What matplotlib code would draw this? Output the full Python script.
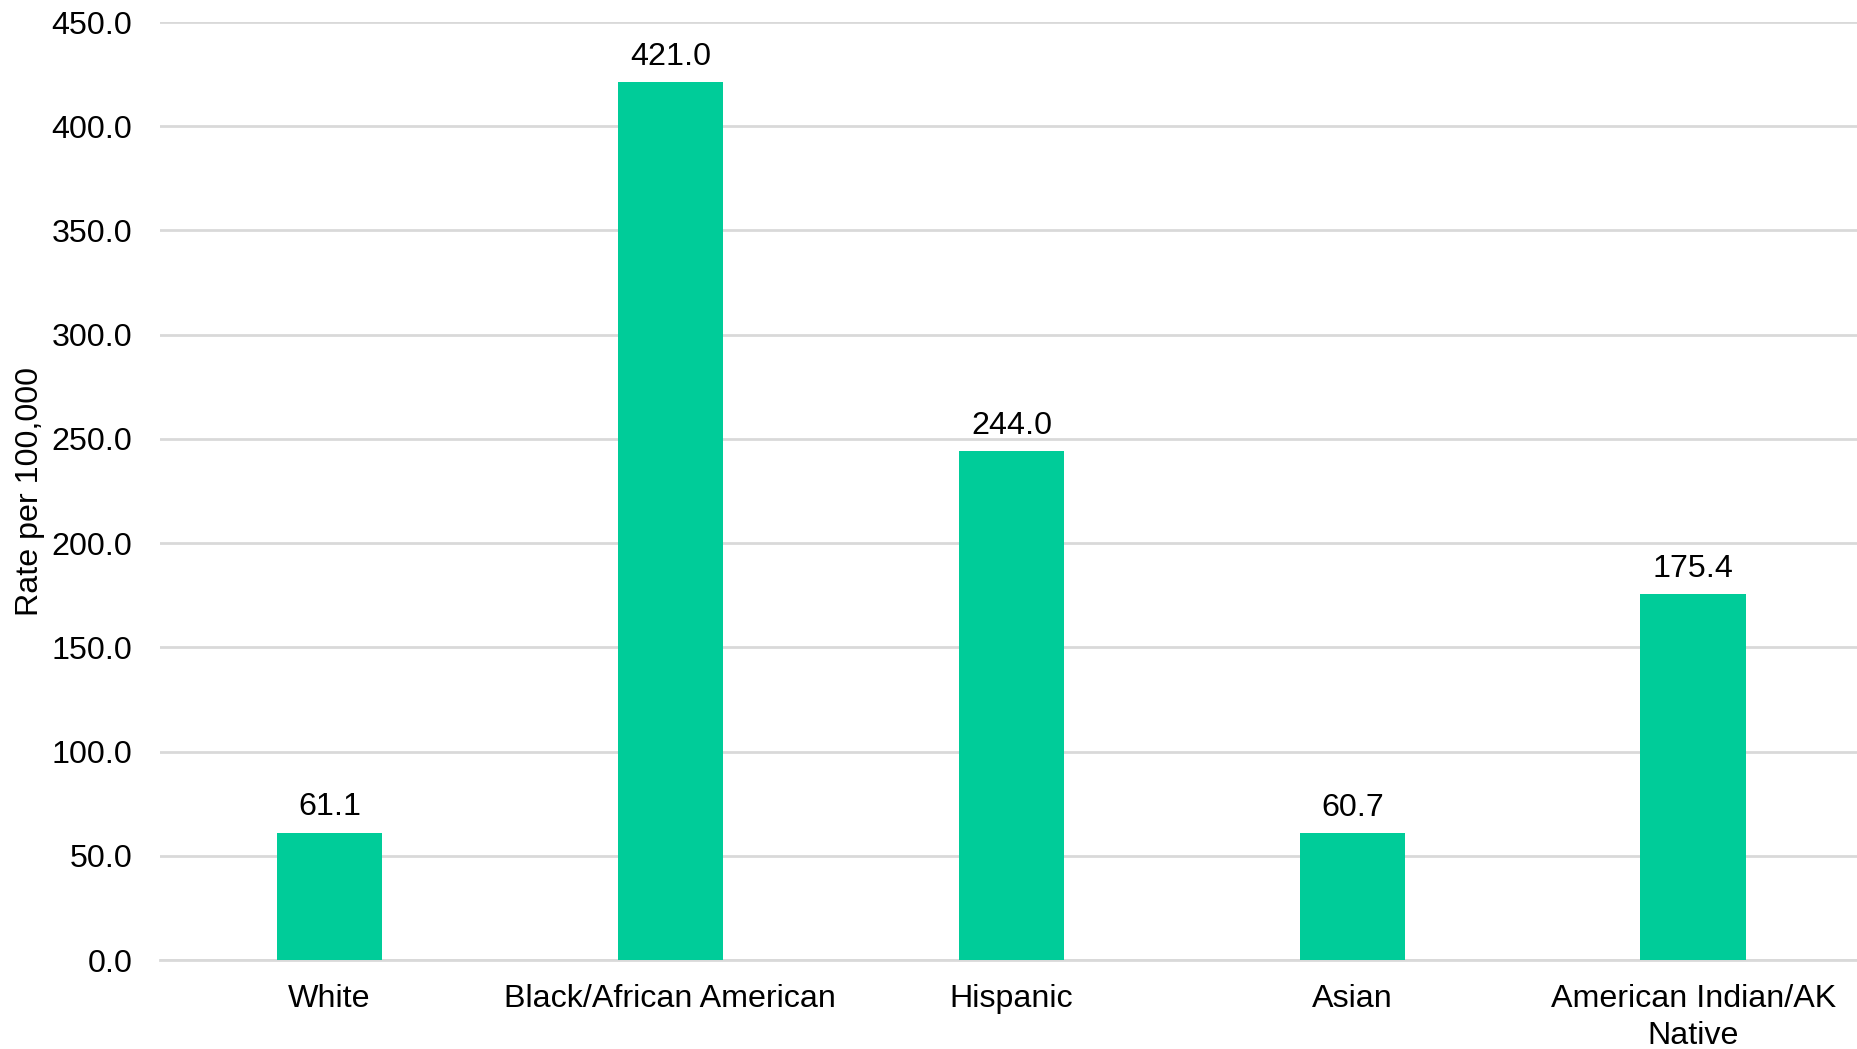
import matplotlib.pyplot as plt

# data
categories = ['White', 'Black/African American', 'Hispanic', 'Asian', 'American Indian/AK\nNative']
rates = [61.1, 421.0, 244.0, 60.7, 175.4]
y_ticks = [0, 50, 100, 150, 200, 250, 300, 350, 400, 450]

plt.rcParams['font.family'] = ['Liberation Sans', 'DejaVu Sans']
FS = 23.2

fig = plt.figure(figsize=(18.58, 10.49), dpi=100)
ax = fig.add_axes([160 / 1858, 1 - 960 / 1049, 1 - 160 / 1858, (960 - 22) / 1049])

x = range(len(categories))
bars = ax.bar(x, rates, width=0.31, color='#00CC99', zorder=3)

for b, v in zip(bars, rates):
    ax.text(b.get_x() + b.get_width() / 2, v + 5, f'{v:.1f}', ha='center', va='bottom',
            fontsize=FS, color='black')

ax.set_xlim(-0.497, 4.483)
ax.set_ylim(0, 450)
ax.set_yticks(y_ticks)
ax.set_yticklabels([f'{t:.1f}' for t in y_ticks], fontsize=FS)
ax.set_xticks(list(x))
ax.set_xticklabels(categories, fontsize=FS, linespacing=1.32)
ax.tick_params(axis='both', length=0, colors='black')
ax.tick_params(axis='x', pad=17)
ax.tick_params(axis='y', pad=20)

ax.grid(axis='y', color='#d9d9d9', linewidth=2, zorder=0)
for s in ['top', 'right', 'left']:
    ax.spines[s].set_visible(False)
ax.spines['bottom'].set_color('#d9d9d9')
ax.spines['bottom'].set_linewidth(2)

ax.set_ylabel('Rate per 100,000', fontsize=FS)
ax.yaxis.set_label_coords(-0.068, 0.5)

fig.savefig('out.png', dpi=100)
